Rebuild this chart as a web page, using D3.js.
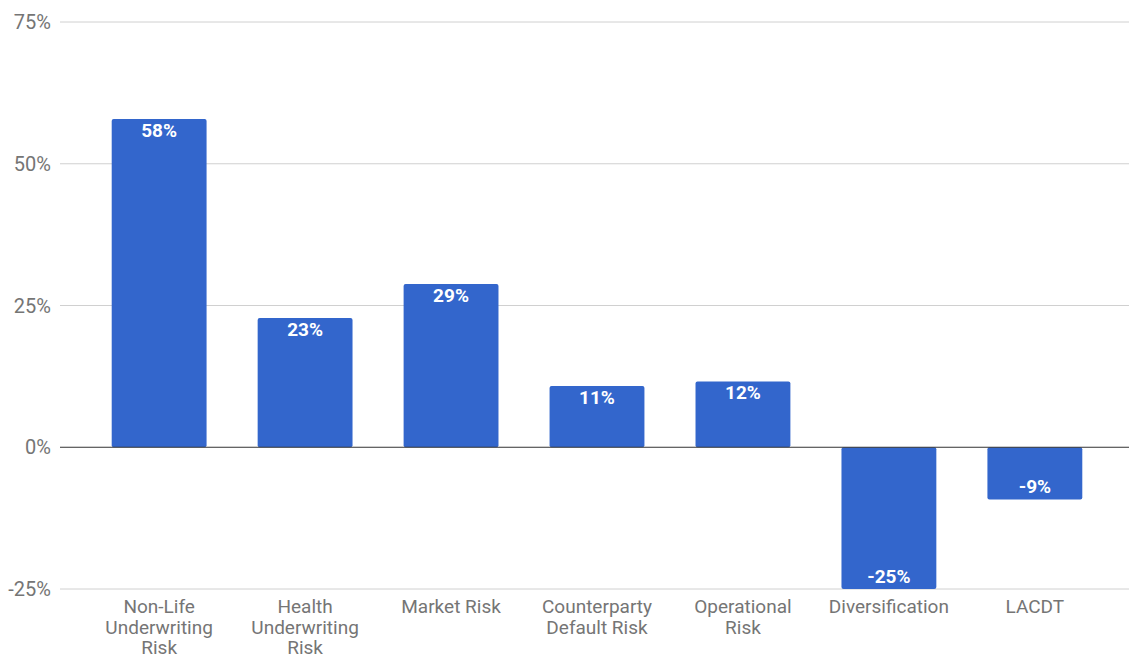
<!DOCTYPE html>
<html>
<head>
<meta charset="utf-8">
<script src="https://cdn.jsdelivr.net/npm/d3@7"></script>
<style>
  body { margin: 0; background: #fff; }
  text { font-family: Roboto, "Noto Sans", sans-serif; }
</style>
</head>
<body>
<script>
// categories and values (percent)
var categories = ["Non-Life Underwriting Risk", "Health Underwriting Risk", "Market Risk",
  "Counterparty Default Risk", "Operational Risk", "Diversification", "LACDT"]
var values = [57.9, 22.8, 28.8, 10.8, 11.6, -25.0, -9.2]
var yTicks = [-25, 0, 25, 50, 75]

var width = 1129, height = 659

var svg = d3.select("body").append("svg")
  .attr("width", width)
  .attr("height", height)

var x = d3.scaleBand()
  .domain(categories)
  .range([65, 1129])
  .paddingInner(0.35)
  .paddingOuter(0.32)

var y = d3.scaleLinear()
  .domain([-25, 75])
  .range([589, 22])

// gridlines
svg.append("g")
  .selectAll("line")
  .data(yTicks.filter(d => d !== 0))
  .join("line")
  .attr("x1", 60).attr("x2", width)
  .attr("y1", d => y(d)).attr("y2", d => y(d))
  .attr("stroke", "#d0d0d0")
  .attr("stroke-width", 1)

// y tick labels
svg.append("g")
  .selectAll("text")
  .data(yTicks)
  .join("text")
  .attr("x", 51)
  .attr("y", d => y(d))
  .attr("dy", "0.35em")
  .attr("text-anchor", "end")
  .attr("fill", "#757575")
  .style("font-size", "20px")
  .text(d => d + "%")

// bars
svg.append("g")
  .selectAll("rect")
  .data(values)
  .join("rect")
  .attr("x", (d, i) => x(categories[i]))
  .attr("width", x.bandwidth())
  .attr("y", d => y(Math.max(0, d)))
  .attr("height", d => Math.abs(y(d) - y(0)))
  .attr("rx", 2)
  .attr("fill", "#3366cc")

// zero line
svg.append("line")
  .attr("x1", 60).attr("x2", width)
  .attr("y1", y(0)).attr("y2", y(0))
  .attr("stroke", "#333")
  .attr("stroke-width", 1)

// value labels inside bar ends
svg.append("g")
  .selectAll("text")
  .data(values)
  .join("text")
  .attr("x", (d, i) => x(categories[i]) + x.bandwidth() / 2)
  .attr("y", d => d >= 0 ? y(d) + 11 : y(d) - 13)
  .attr("dy", "0.35em")
  .attr("text-anchor", "middle")
  .attr("fill", "#fff")
  .style("font-size", "19px")
  .style("font-weight", "bold")
  .text(d => Math.round(d) + "%")

// category labels, wrapped
var catLabels = svg.append("g")
  .selectAll("text")
  .data(categories)
  .join("text")
  .attr("x", d => x(d) + x.bandwidth() / 2)
  .attr("y", 613)
  .attr("text-anchor", "middle")
  .attr("fill", "#757575")
  .style("font-size", "19px")

catLabels.each(function(d) {
  var el = d3.select(this)
  var words = d.split(" "), lines = [], line = []
  var probe = el.append("tspan")
  words.forEach(function(w) {
    var test = line.concat(w).join(" ")
    probe.text(test)
    if (line.length && probe.node().getComputedTextLength() > 125) {
      lines.push(line.join(" "))
      line = [w]
    } else {
      line.push(w)
    }
  })
  lines.push(line.join(" "))
  probe.remove()
  lines.forEach(function(l, i) {
    el.append("tspan")
      .attr("x", el.attr("x"))
      .attr("dy", i === 0 ? 0 : 20.5)
      .text(l)
  })
})
</script>
</body>
</html>
